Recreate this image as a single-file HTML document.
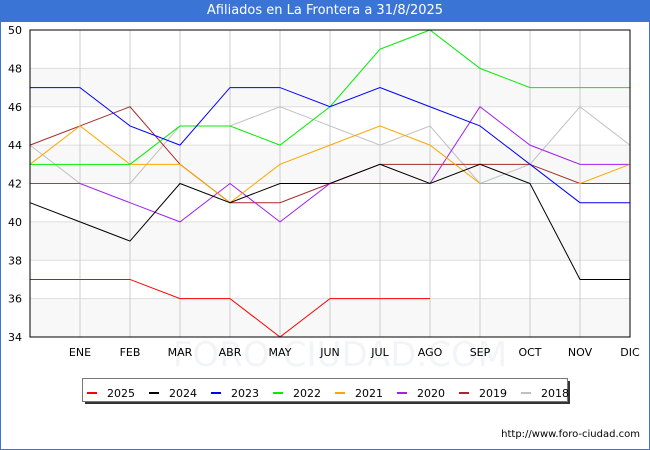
<!DOCTYPE html>
<html><head><meta charset="utf-8"><style>
body{margin:0;width:650px;height:450px;overflow:hidden;background:#fff;font-family:"DejaVu Sans","Liberation Sans",sans-serif;}
#wrap{position:absolute;left:0;top:0;width:648px;height:448px;border:1px solid #3a75d6;}
#title{position:absolute;left:0;top:0;width:650px;height:22px;background:#3a75d6;color:#fff;font-size:13px;text-align:center;line-height:22px;}
</style></head><body>
<div id="wrap"></div>
<div id="title">Afiliados en La Frontera a 31/8/2025</div>
<svg id="chart" width="650" height="450" style="position:absolute;left:0;top:0"></svg>
<script>
const months=["","ENE","FEB","MAR","ABR","MAY","JUN","JUL","AGO","SEP","OCT","NOV","DIC"];
const yTicks=[34,36,38,40,42,44,46,48,50];
const seriesNames=["2025","2024","2023","2022","2021","2020","2019","2018"];
const colors=["#ff0000","#000000","#0000ff","#00ee00","#ffa500","#a020f0","#a52a2a","#c0c0c0"];
const s2025=[37,37,37,36,36,34,36,36,36];
const s2024=[41,40,39,42,41,42,42,43,42,43,42,37,37];
const s2023=[47,47,45,44,47,47,46,47,46,45,43,41,41];
const s2022=[43,43,43,45,45,44,46,49,50,48,47,47,47];
const s2021=[43,45,43,43,41,43,44,45,44,42,42,42,43];
const s2020=[42,42,41,40,42,40,42,42,42,46,44,43,43];
const s2019=[44,45,46,43,41,41,42,43,43,43,43,42,42];
const s2018=[44,42,42,45,45,46,45,44,45,42,43,46,44];
const allSeries=[s2025,s2024,s2023,s2022,s2021,s2020,s2019,s2018];
const L=30,R=630,T=30,B=337,yMin=34,yMax=50;
const xs=i=>L+i*(R-L)/12;
const ys=v=>B-(v-yMin)*(B-T)/(yMax-yMin);
const svg=document.getElementById('chart');
const NS="http://www.w3.org/2000/svg";
function mk(tag,attrs){const e=document.createElementNS(NS,tag);for(const k in attrs)e.setAttribute(k,attrs[k]);svg.appendChild(e);return e;}
for(let i=0;i<yTicks.length-1;i++){
  if(i%2===0){const b=mk('rect',{x:L,y:ys(yTicks[i+1]),width:R-L,height:ys(yTicks[i])-ys(yTicks[i+1]),fill:'#f8f8f8'});
  
  }
}
const wm=mk('text',{x:340,y:366,'text-anchor':'middle','font-size':34,fill:'#f3f4f8'});
wm.textContent='FORO-CIUDAD.COM';


yTicks.forEach(v=>{
  const g=mk('line',{x1:L,x2:R,y1:ys(v),y2:ys(v),stroke:'#dddddd','stroke-width':1});
  
  
  const t=mk('text',{x:22,y:ys(v)+4,'text-anchor':'end','font-size':11,fill:'#000'});
  t.textContent=v;
  
  
});
months.forEach((m,i)=>{
  if(i>0&&i<12){const g=mk('line',{x1:xs(i),x2:xs(i),y1:T,y2:B,stroke:'#cccccc','stroke-width':1});
  
  }
  if(m){const t=mk('text',{x:xs(i),y:356,'text-anchor':'middle','font-size':11,fill:'#000'});
  t.textContent=m;
  
  }
});
for(let s=allSeries.length-1;s>=0;s--){
  const d=allSeries[s].map((v,i)=>(i?'L':'M')+xs(i)+','+ys(v)).join(' ');
  const p=mk('path',{d:d,fill:'none',stroke:colors[s],'stroke-width':1});
  
  
}
const fr=mk('rect',{x:L,y:T,width:R-L,height:B-T,fill:'none',stroke:'#000','stroke-width':1});


const sh=mk('rect',{x:85,y:381,width:485,height:23,fill:'#333'});


const lg=mk('rect',{x:82.5,y:378.5,width:485,height:23,fill:'#fff',stroke:'#777'});


seriesNames.forEach((n,i)=>{
  const x0=87+i*62;
  const m=mk('line',{x1:x0,x2:x0+10,y1:393,y2:393,stroke:colors[i],'stroke-width':2});
  
  
  const t=mk('text',{x:x0+20,y:397,'font-size':11,fill:'#000'});
  t.textContent=n;
  
  
});
const u=mk('text',{x:640,y:437,'text-anchor':'end','font-size':10,fill:'#000'});
u.textContent='http://www.foro-ciudad.com';


</script>
</body></html>
